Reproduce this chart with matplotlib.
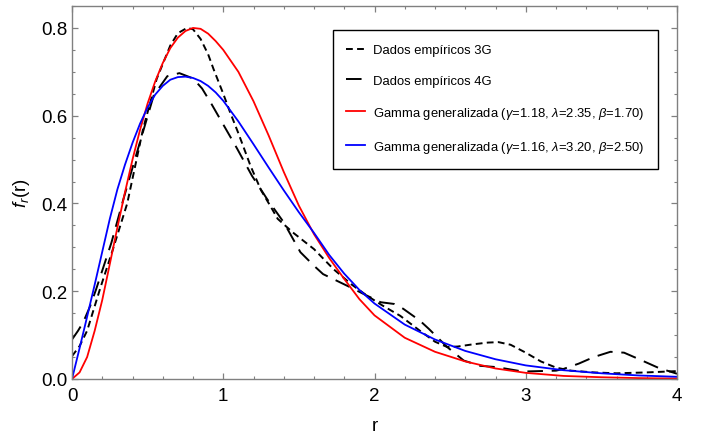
import matplotlib
matplotlib.use("Agg")
import matplotlib.pyplot as plt
from matplotlib.ticker import MultipleLocator

plt.rcParams['font.family'] = ['Liberation Sans', 'DejaVu Sans']
plt.rcParams['mathtext.fontset'] = 'custom'
plt.rcParams['mathtext.rm'] = 'Liberation Sans'
plt.rcParams['mathtext.it'] = 'Liberation Sans:italic'

# empirical density, 3G
r_3g = [0, 0.05, 0.1, 0.185, 0.27, 0.365, 0.47, 0.56, 0.65, 0.7, 0.76, 0.8, 0.85, 0.9,
        0.935, 1.0, 1.045, 1.1, 1.18, 1.25, 1.31, 1.36, 1.46, 1.6, 1.73, 1.85, 1.95, 2.05,
        2.17, 2.3, 2.4, 2.48, 2.55, 2.65, 2.75, 2.82, 2.9, 3.0, 3.1, 3.2, 3.3, 3.45, 3.6,
        3.8, 4.0]
f_3g = [0.052, 0.075, 0.11, 0.205, 0.295, 0.40, 0.57, 0.684, 0.76, 0.788, 0.80, 0.797,
        0.775, 0.74, 0.707, 0.65, 0.608, 0.56, 0.486, 0.43, 0.395, 0.365, 0.334, 0.296,
        0.25, 0.215, 0.19, 0.168, 0.144, 0.11, 0.085, 0.073, 0.074, 0.079, 0.083, 0.084,
        0.078, 0.06, 0.04, 0.026, 0.019, 0.015, 0.013, 0.015, 0.018]

# empirical density, 4G
r_4g = [0, 0.04, 0.075, 0.12, 0.16, 0.26, 0.34, 0.43, 0.54, 0.63, 0.71, 0.8, 0.86, 0.92,
        1.0, 1.09, 1.19, 1.29, 1.40, 1.51, 1.60, 1.66, 1.75, 1.84, 1.95, 2.04, 2.13, 2.19,
        2.30, 2.36, 2.48, 2.59, 2.70, 2.81, 2.98, 3.2, 3.25, 3.35, 3.45, 3.56, 3.65, 3.75,
        3.88, 4.0]
f_4g = [0.09, 0.11, 0.13, 0.166, 0.205, 0.31, 0.41, 0.517, 0.646, 0.69, 0.697, 0.685, 0.662,
        0.628, 0.58, 0.526, 0.463, 0.41, 0.357, 0.289, 0.258, 0.239, 0.224, 0.209, 0.19,
        0.175, 0.171, 0.16, 0.133, 0.114, 0.073, 0.042, 0.03, 0.027, 0.017, 0.019, 0.023,
        0.035, 0.05, 0.062, 0.06, 0.045, 0.025, 0.012]

# generalized gamma fit (gamma=1.18, lambda=2.35, beta=1.70)
r_red = [0, 0.05, 0.1, 0.15, 0.2, 0.25, 0.3, 0.35, 0.4, 0.45, 0.5, 0.55, 0.6, 0.65, 0.7,
         0.75, 0.8, 0.85, 0.9, 0.95, 1.0, 1.1, 1.2, 1.3, 1.4, 1.5, 1.6, 1.7, 1.8, 1.9, 2.0,
         2.2, 2.4, 2.6, 2.8, 3.0, 3.25, 3.5, 3.75, 4.0]
f_red = [0, 0.015, 0.05, 0.11, 0.18, 0.262, 0.345, 0.425, 0.5, 0.568, 0.628, 0.678, 0.72,
         0.754, 0.778, 0.793, 0.80, 0.798, 0.787, 0.77, 0.75, 0.70, 0.633, 0.555, 0.472,
         0.395, 0.33, 0.276, 0.228, 0.182, 0.145, 0.094, 0.062, 0.040, 0.024, 0.014, 0.007,
         0.004, 0.002, 0.001]

# generalized gamma fit (gamma=1.16, lambda=3.20, beta=2.50)
r_blue = [0, 0.05, 0.1, 0.15, 0.2, 0.25, 0.3, 0.35, 0.4, 0.45, 0.5, 0.55, 0.6, 0.65, 0.7,
          0.75, 0.8, 0.85, 0.9, 0.95, 1.0, 1.1, 1.2, 1.3, 1.4, 1.5, 1.6, 1.7, 1.8, 1.9, 2.0,
          2.2, 2.4, 2.6, 2.8, 3.0, 3.25, 3.5, 3.75, 4.0]
f_blue = [0, 0.07, 0.142, 0.215, 0.29, 0.365, 0.432, 0.488, 0.538, 0.582, 0.619, 0.648, 0.668,
          0.682, 0.688, 0.689, 0.686, 0.679, 0.668, 0.653, 0.634, 0.587, 0.535, 0.482, 0.43,
          0.38, 0.333, 0.283, 0.24, 0.203, 0.172, 0.124, 0.09, 0.064, 0.045, 0.031, 0.02,
          0.013, 0.008, 0.005]

labels = ['Dados empíricos 3G', 'Dados empíricos 4G',
          r'Gamma generalizada ($\gamma$=1.18, $\lambda$=2.35, $\beta$=1.70)',
          r'Gamma generalizada ($\gamma$=1.16, $\lambda$=3.20, $\beta$=2.50)']

fig = plt.figure(figsize=(7.02, 4.39), dpi=100)
ax = fig.add_axes([72 / 702, 1 - 380 / 439, 605 / 702, 373 / 439])

ax.plot(r_3g, f_3g, color='black', lw=1.4, dashes=(3.5, 2.2), label=labels[0])
ax.plot(r_4g, f_4g, color='black', lw=1.4, dashes=(8, 4.5), label=labels[1])
ax.plot(r_red, f_red, color='red', lw=1.3, label=labels[2])
ax.plot(r_blue, f_blue, color='blue', lw=1.3, label=labels[3])

ax.set_xlim(0, 4)
ax.set_ylim(0, 0.85)
ax.xaxis.set_major_locator(MultipleLocator(1))
ax.xaxis.set_minor_locator(MultipleLocator(0.2))
ax.yaxis.set_major_locator(MultipleLocator(0.2))
ax.yaxis.set_minor_locator(MultipleLocator(0.05))
ax.yaxis.set_major_formatter(plt.FuncFormatter(lambda v, p: '%.1f' % v))

for s in ax.spines.values():
    s.set_color('0.5')
    s.set_linewidth(1.0)
ax.tick_params(which='both', direction='in', top=True, right=True, color='0.5',
               labelsize=13.5, labelcolor='black')
ax.tick_params(which='major', length=4.5, width=0.9)
ax.tick_params(which='minor', length=2.5, width=0.8)
ax.tick_params(axis='x', pad=6)
ax.tick_params(axis='y', pad=3)

ax.set_xlabel('r', fontsize=13.5, labelpad=9)
ax.set_ylabel(r'$f_r$(r)', fontsize=13.5, labelpad=7)

leg = ax.legend(loc='upper left', bbox_to_anchor=(0.431, 0.935), borderaxespad=0,
                fontsize=9.4, frameon=True, fancybox=False, framealpha=1,
                edgecolor='black', handlelength=1.4, handletextpad=0.6,
                labelspacing=1.4, borderpad=1.05)
leg.get_frame().set_linewidth(1.0)

fig.savefig('out.png', dpi=100)
